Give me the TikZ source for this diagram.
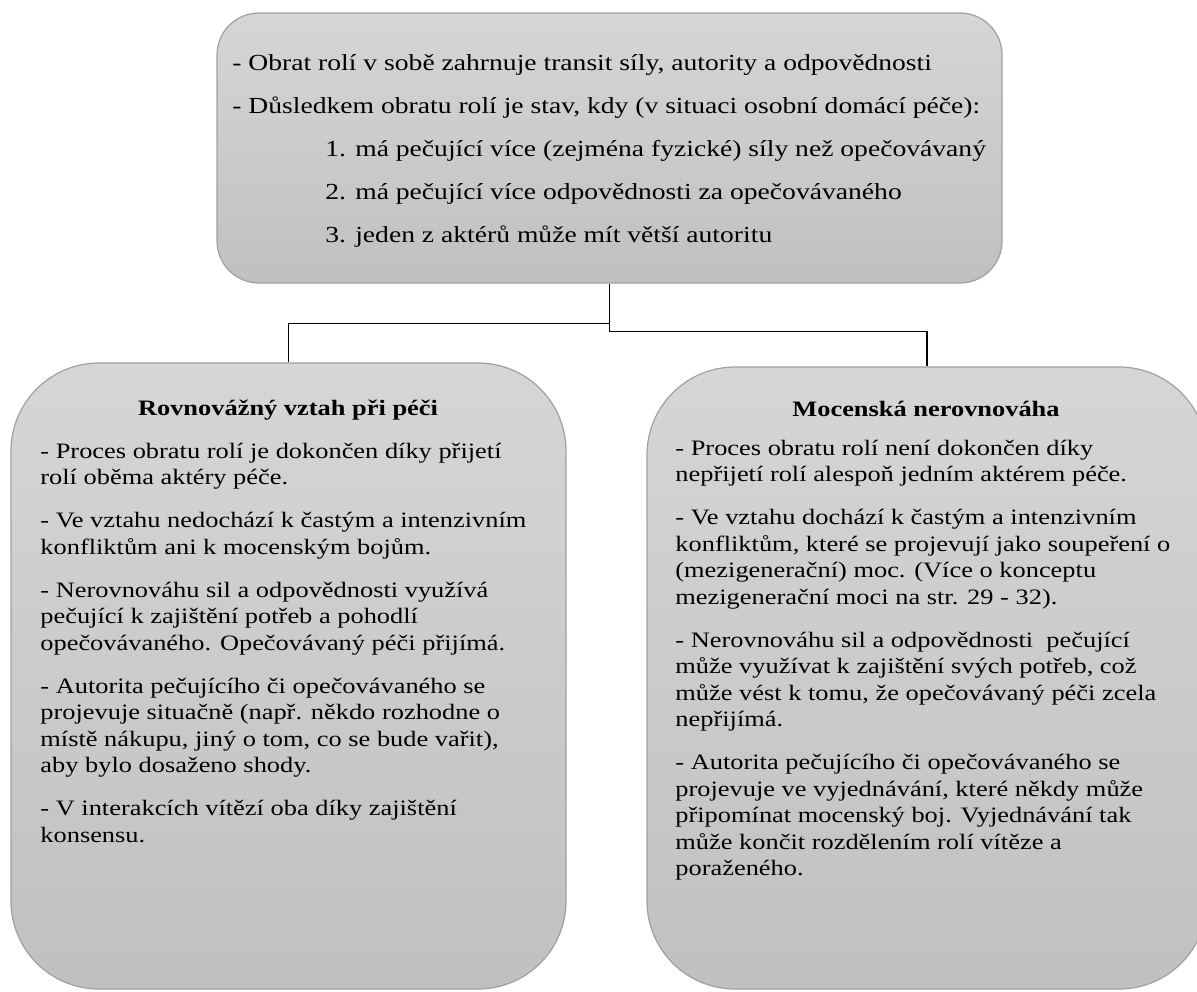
\documentclass[tikz,border=0pt]{standalone}
\usepackage{fontspec}
\setmainfont{Liberation Serif}[FakeStretch=1.2]
\definecolor{boxtop}{RGB}{214,214,214}
\definecolor{boxbot}{RGB}{192,192,192}
\definecolor{boxline}{RGB}{160,160,160}
\newcommand\lowtext[1]{\vtop{\hsize=300pt\raggedright\parindent=0pt\parskip=8.25pt\baselineskip=13.25pt\relax\fontsize{11pt}{13.25pt}\selectfont #1}}
\newcommand\toptext[1]{\vtop{\hsize=420pt\raggedright\parindent=0pt\parskip=0pt\baselineskip=21.6pt\relax\fontsize{11.5pt}{21.6pt}\selectfont #1}}
\begin{document}
\begin{tikzpicture}[x=0.5pt,y=-0.5pt,
  box/.style={draw=boxline, line width=0.6pt, top color=boxtop, bottom color=boxbot, inner sep=0pt},
  conn/.style={draw=black, line width=0.8pt},
  txt/.style={inner sep=0pt, anchor=base west},
  ttl/.style={inner sep=0pt, anchor=base, font=\fontsize{11pt}{13pt}\selectfont\bfseries}]
\fill[white] (0,0) rectangle (1197,991);
\useasboundingbox (0,0) rectangle (1197,991);
% boxes
\node[box, rounded corners=21pt, minimum width=392.5pt, minimum height=135pt] (top) at (609.5,148) {};
\node[box, rounded corners=44pt, minimum width=277.5pt, minimum height=313pt] (left) at (288.5,676) {};
\node[box, rounded corners=44pt, minimum width=280pt, minimum height=311pt] (right) at (927,678) {};
% connectors
\draw[conn] (top.south) -- ++(0,40) -| (left.north);
\draw[conn] (top.south) -- ++(0,48) -| (right.north);
% top text
\node[txt] (toptxt) at (232,70) {\toptext{%
- Obrat rolí v sobě zahrnuje transit síly, autority a odpovědnosti\\
- Důsledkem obratu rolí je stav, kdy (v situaci osobní domácí péče):\\
\hspace*{46.5pt}1. má pečující více (zejména fyzické) síly než opečovávaný\\
\hspace*{46.5pt}2. má pečující více odpovědnosti za opečovávaného\\
\hspace*{46.5pt}3. jeden z aktérů může mít větší autoritu}};
% left
\node[ttl] (lefttitle) at (288,415) {Rovnovážný vztah při péči};
\node[txt] (lefttxt) at (40,458) {\lowtext{%
- Proces obratu rolí je dokončen díky přijetí\\
rolí oběma aktéry péče.\par
- Ve vztahu nedochází k častým a intenzivním\\
konfliktům ani k mocenským bojům.\par
- Nerovnováhu sil a odpovědnosti využívá\\
pečující k zajištění potřeb a pohodlí\\
opečovávaného. Opečovávaný péči přijímá.\par
- Autorita pečujícího či opečovávaného se\\
projevuje situačně (např. někdo rozhodne o\\
místě nákupu, jiný o tom, co se bude vařit),\\
aby bylo dosaženo shody.\par
- V interakcích vítězí oba díky zajištění\\
konsensu.}};
% right
\node[ttl] (righttitle) at (926,416) {Mocenská nerovnováha};
\node[txt] (righttxt) at (675,455) {\lowtext{%
- Proces obratu rolí není dokončen díky\\
nepřijetí rolí alespoň jedním aktérem péče.\par
- Ve vztahu dochází k častým a intenzivním\\
konfliktům, které se projevují jako soupeření o\\
(mezigenerační) moc. (Více o konceptu\\
mezigenerační moci na str. 29 - 32).\par
- Nerovnováhu sil a odpovědnosti\ \ pečující\\
může využívat k zajištění svých potřeb, což\\
může vést k tomu, že opečovávaný péči zcela\\
nepřijímá.\par
- Autorita pečujícího či opečovávaného se\\
projevuje ve vyjednávání, které někdy může\\
připomínat mocenský boj. Vyjednávání tak\\
může končit rozdělením rolí vítěze a\\
poraženého.}};
\end{tikzpicture}
\end{document}
